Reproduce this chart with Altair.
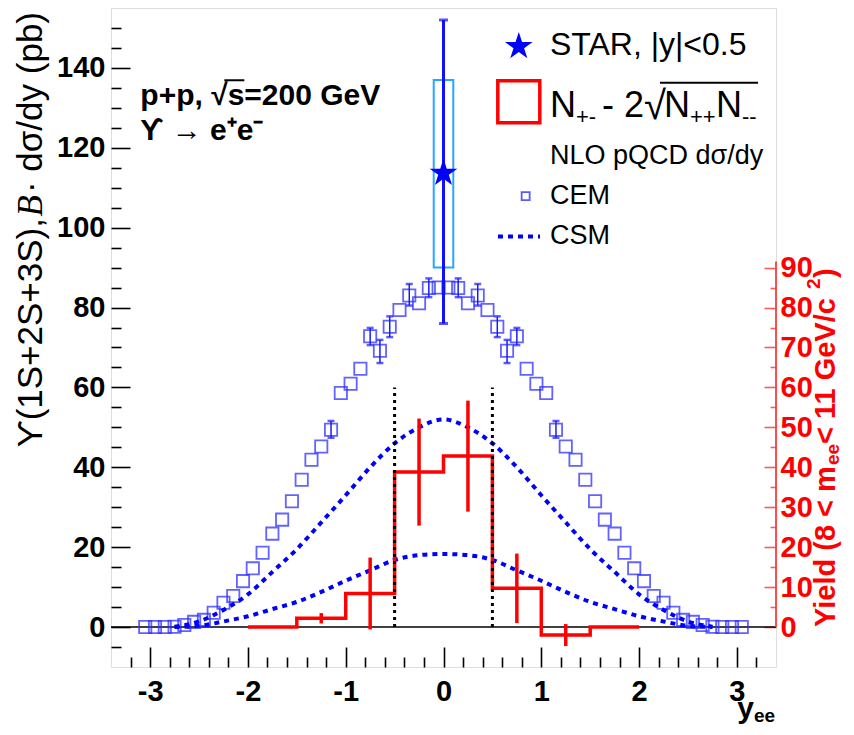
import altair as alt
import pandas as pd

FONT = "Liberation Sans"
BLUE = "#0000ff"
RED = "#ff0000"

# ---------------- data ----------------
# NLO pQCD CEM prediction (open squares), y in pb
cem_x = [-3.05, -2.95, -2.85, -2.75, -2.65, -2.55, -2.45, -2.35, -2.25, -2.15,
         -2.05, -1.95, -1.85, -1.75, -1.65, -1.55, -1.45, -1.35, -1.25, -1.15,
         -1.05, -0.95, -0.85, -0.75, -0.65, -0.55, -0.45, -0.35, -0.25, -0.15,
         -0.05, 0.05, 0.15, 0.25, 0.35, 0.45, 0.55, 0.65, 0.75, 0.85,
         0.95, 1.05, 1.15, 1.25, 1.35, 1.45, 1.55, 1.65, 1.75, 1.85,
         1.95, 2.05, 2.15, 2.25, 2.35, 2.45, 2.55, 2.65, 2.75, 2.85,
         2.95, 3.05]
cem_y = [0.0, 0.0, 0.0, 0.1, 0.5, 1.3, 1.8, 3.6, 6.1, 7.8,
         11.5, 14.7, 18.6, 23.4, 26.9, 31.5, 36.9, 41.9, 45.2, 49.4,
         58.6, 60.9, 64.7, 72.8, 69.2, 75.2, 79.4, 83.0, 81.1, 84.9,
         85.0, 85.0, 84.9, 81.1, 83.0, 79.4, 75.2, 69.2, 72.8, 64.7,
         60.9, 58.6, 49.4, 45.2, 41.9, 36.9, 31.5, 26.9, 23.4, 18.6,
         14.7, 11.5, 7.8, 6.1, 3.6, 1.8, 1.3, 0.5, 0.1, 0.0,
         0.0, 0.0]
cem_err_x = [-1.15, -0.75, -0.65, -0.55, -0.35, -0.15, 0.15, 0.35, 0.55, 0.65, 0.75, 1.15]
cem_err_lo = [47.4, 70.6, 66.1, 72.6, 80.5, 82.6, 82.6, 80.5, 72.6, 66.1, 70.6, 47.4]
cem_err_hi = [51.6, 74.9, 71.9, 77.8, 85.9, 87.3, 87.3, 85.9, 77.8, 71.9, 74.9, 51.6]

# CSM curves (dotted)
csm_x = [-2.75, -2.5, -2.25, -2.0, -1.75, -1.5, -1.25, -1.0, -0.75, -0.5, -0.25, 0.0,
         0.25, 0.5, 0.75, 1.0, 1.25, 1.5, 1.75, 2.0, 2.25, 2.5, 2.75]
csm_upper = [0.1, 1.4, 4.3, 8.2, 13.8, 19.5, 26.2, 33.0, 40.0, 46.0, 50.0, 52.0,
             50.0, 46.0, 40.0, 33.0, 26.2, 19.5, 13.8, 8.2, 4.3, 1.4, 0.1]
csm_lower = [0.0, 0.3, 1.4, 2.7, 4.5, 6.3, 8.8, 11.6, 14.2, 16.8, 18.0, 18.3,
             18.0, 16.8, 14.2, 11.6, 8.8, 6.3, 4.5, 2.7, 1.4, 0.3, 0.0]

# STAR measurement
star_x = [0.0]
star_y = [114.0]
star_stat_lo = [76.0]
star_stat_hi = [152.0]
star_sys_lo = [90.0]
star_sys_hi = [137.0]
star_box_x1 = [-0.1]
star_box_x2 = [0.1]

# N+- - 2 sqrt(N++ N--) yield histogram (right axis, same scale)
yield_edges = [-2.0, -1.5, -1.0, -0.5, 0.0, 0.5, 1.0, 1.5, 2.0]
yield_vals = [0.0, 2.2, 8.4, 38.8, 42.8, 9.7, -2.0, 0.0]
yield_errs = [0.0, 1.3, 9.0, 13.4, 13.9, 8.7, 2.75, 0.0]

# |y|<0.5 markers
cut_x = [-0.5, 0.5]
cut_top = [60.0, 60.0]

# axes ticks
x_major = [-3, -2, -1, 0, 1, 2, 3]
x_minor = [-3.2, -2.8, -2.6, -2.4, -2.2, -1.8, -1.6, -1.4, -1.2, -0.8, -0.6, -0.4, -0.2,
           0.2, 0.4, 0.6, 0.8, 1.2, 1.4, 1.6, 1.8, 2.2, 2.4, 2.6, 2.8, 3.2]
y_major = [0, 20, 40, 60, 80, 100, 120, 140]
y_minor = [-5, 5, 10, 15, 25, 30, 35, 45, 50, 55, 65, 70, 75, 85, 90, 95,
           105, 110, 115, 125, 130, 135, 145, 150]
r_major = [0, 10, 20, 30, 40, 50, 60, 70, 80, 90]
r_minor = [5, 15, 25, 35, 45, 55, 65, 75, 85]
red_axis_top = 91.5

STAR_PATH = ("M0,-0.905L0.2245,-0.214L0.9511,-0.214L0.3633,0.213L0.5878,0.904"
             "L0,0.477L-0.5878,0.904L-0.3633,0.213L-0.9511,-0.214L-0.2245,-0.214Z")

# ---------------- scales / helpers ----------------
xs = alt.Scale(domain=[-3.4, 3.4], nice=False, zero=False)
ys = alt.Scale(domain=[-10, 155], nice=False, zero=False)


def X(f="x", axis=None):
    return alt.X(f"{f}:Q", scale=xs, axis=axis)


def Y(f="y", axis=None):
    return alt.Y(f"{f}:Q", scale=ys, axis=axis)


def ax(orient, values, offset, size, labels=True, color="black", tickcolor="black", pad=6, expr=None):
    kw = dict(orient=orient, values=values, offset=offset, tickSize=size, tickWidth=1.6,
              tickColor=tickcolor, domain=False, grid=False, title=None, labels=labels,
              labelFlush=False, labelOverlap=False)
    if labels:
        kw.update(labelFont=FONT, labelFontSize=29, labelFontWeight="bold",
                  labelColor=color, labelPadding=pad)
    if expr:
        kw["labelExpr"] = expr
    return alt.Axis(**kw)


def txt(t, x, y, **mk):
    base = dict(font=FONT, color="black", fontSize=30)
    base.update(mk)
    df = pd.DataFrame({"x": [x], "y": [y], "t": [t]})
    return alt.Chart(df).mark_text(**base).encode(x=X(), y=Y(), text="t:N")


layers = []

# axis carriers
carrier = pd.DataFrame({"x": [0.0], "y": [0.0]})
neg = "(datum.value < 0 ? '-' : '') + format(abs(datum.value), 'd')"
layers.append(alt.Chart(carrier).mark_point(opacity=0).encode(
    x=X(axis=ax("bottom", x_major, -20, 20, pad=10, expr=neg)),
    y=Y(axis=ax("left", y_major, -19, 19, pad=6))))
layers.append(alt.Chart(carrier).mark_point(opacity=0).encode(
    x=X(axis=ax("bottom", x_minor, -10, 10, labels=False)),
    y=Y(axis=ax("left", y_minor, -10, 10, labels=False))))
layers.append(alt.Chart(carrier).mark_point(opacity=0).encode(
    x=X(), y=Y(axis=ax("right", r_major, -12, 12, color=RED, tickcolor="#ff5a5a", pad=4))))
layers.append(alt.Chart(carrier).mark_point(opacity=0).encode(
    x=X(), y=Y(axis=ax("right", r_minor, -6, 6, labels=False, tickcolor="#ff5a5a"))))

# zero line
zero_df = pd.DataFrame({"x": [-3.4], "x2": [3.4], "y": [0.0]})
layers.append(alt.Chart(zero_df).mark_rule(color="black", strokeWidth=1.5).encode(
    x=X(), x2="x2:Q", y=Y()))

# CEM squares
cem_df = pd.DataFrame({"x": cem_x, "y": cem_y})
layers.append(alt.Chart(cem_df).mark_point(shape="square", size=150, filled=False, color="#2f2fff",
                                           strokeWidth=1.8, opacity=0.75).encode(x=X(), y=Y()))
cem_err_df = pd.DataFrame({"x": cem_err_x, "lo": cem_err_lo, "hi": cem_err_hi})
layers.append(alt.Chart(cem_err_df).mark_rule(color="#1a1aff", strokeWidth=1.5).encode(
    x=X(), y=Y("lo"), y2="hi:Q"))
layers.append(alt.Chart(cem_err_df).mark_tick(orient="horizontal", size=7, thickness=2.5, color="#1a1aff").encode(
    x=X(), y=Y("lo")))
layers.append(alt.Chart(cem_err_df).mark_tick(orient="horizontal", size=7, thickness=2.5, color="#1a1aff").encode(
    x=X(), y=Y("hi")))

# CSM curves
csm_df = pd.DataFrame({"x": csm_x + csm_x, "y": csm_upper + csm_lower,
                       "c": ["upper"] * len(csm_x) + ["lower"] * len(csm_x)})
layers.append(alt.Chart(csm_df).mark_line(color=BLUE, strokeWidth=4, strokeDash=[5, 5],
                                          interpolate="monotone").encode(x=X(), y=Y(), detail="c:N"))

# yield histogram
step_df = pd.DataFrame({"x": yield_edges, "y": yield_vals + [yield_vals[-1]]})
layers.append(alt.Chart(step_df).mark_line(color=RED, strokeWidth=3.5, interpolate="step-after").encode(
    x=X(), y=Y()))
centers = [(a + b) / 2 for a, b in zip(yield_edges[:-1], yield_edges[1:])]
yerr_df = pd.DataFrame({"x": centers, "v": yield_vals, "e": yield_errs})
yerr_df = yerr_df[yerr_df["e"] > 0]
layers.append(alt.Chart(yerr_df).transform_calculate(lo="datum.v - datum.e", hi="datum.v + datum.e")
              .mark_rule(color=RED, strokeWidth=3.5).encode(x=X(), y=Y("lo"), y2="hi:Q"))

# |y|<0.5 lines
cut_df = pd.DataFrame({"x": cut_x, "y": [0.0, 0.0], "y2": cut_top})
layers.append(alt.Chart(cut_df).mark_rule(color="black", strokeWidth=3, strokeDash=[3, 4]).encode(
    x=X(), y=Y(), y2="y2:Q"))

# STAR point
box_df = pd.DataFrame({"x": star_box_x1, "x2": star_box_x2, "y": star_sys_lo, "y2": star_sys_hi})
layers.append(alt.Chart(box_df).mark_rect(fillOpacity=0, stroke="#2aa5ff", strokeWidth=2).encode(
    x=X(), x2="x2:Q", y=Y(), y2="y2:Q"))
stat_df = pd.DataFrame({"x": star_x, "lo": star_stat_lo, "hi": star_stat_hi, "y": star_y})
layers.append(alt.Chart(stat_df).mark_rule(color="#1010ff", strokeWidth=3).encode(
    x=X(), y=Y("lo"), y2="hi:Q"))
layers.append(alt.Chart(stat_df).mark_tick(orient="horizontal", size=9, thickness=3, color="#1010ff").encode(
    x=X(), y=Y("lo")))
layers.append(alt.Chart(stat_df).mark_tick(orient="horizontal", size=9, thickness=3, color="#1010ff").encode(
    x=X(), y=Y("hi")))
layers.append(alt.Chart(stat_df).mark_point(shape=STAR_PATH, filled=True, color=BLUE, size=850,
                                            opacity=1).encode(x=X(), y=Y()))

# red axis line
raxis_df = pd.DataFrame({"x": [3.4], "y": [0.0], "y2": [red_axis_top]})
layers.append(alt.Chart(raxis_df).mark_rule(color="#ff3b3b", strokeWidth=1.8).encode(
    x=X(), y=Y(), y2="y2:Q"))

# ---------------- annotations ----------------
layers.append(txt("p+p, √s=200 GeV", -3.10, 132.9, fontWeight="bold", align="left", baseline="middle"))
ov_df = pd.DataFrame({"x": [-3.10], "y": [132.9]})
layers.append(alt.Chart(ov_df).mark_rule(color="black", strokeWidth=2, xOffset=84, x2Offset=104,
                                         yOffset=-16).encode(x=X(), x2="x:Q", y=Y()))
layers.append(txt("ϒ → e⁺e⁻", -3.10, 124.2, fontWeight="bold", align="left", baseline="middle"))

# legend
LX_SYM, LX_TXT = 0.77, 1.089
leg_star = pd.DataFrame({"x": [LX_SYM], "y": [145.7]})
layers.append(alt.Chart(leg_star).mark_point(shape=STAR_PATH, filled=True, color=BLUE, size=850,
                                             opacity=1).encode(x=X(), y=Y()))
layers.append(txt("STAR, |y|<0.5", LX_TXT, 145.7, fontSize=32, align="left", baseline="middle"))
leg_sq = pd.DataFrame({"x": [LX_SYM], "y": [131.5]})
layers.append(alt.Chart(leg_sq).mark_point(shape="square", size=1764, filled=False, color=RED,
                                           strokeWidth=3.5, opacity=1).encode(x=X(), y=Y()))
FY = 127.8
for t, dx, dy, fs in [("N", 0, 0, 36), ("+-", 26, 7, 22), ("- 2", 52, 0, 36), ("√", 94, 2, 40),
                      ("N", 114, 0, 36), ("++", 140, 7, 22), ("N", 166, 0, 36), ("--", 192, 7, 22)]:
    layers.append(txt(t, LX_TXT, FY, fontSize=fs, align="left", baseline="alphabetic", dx=dx, dy=dy))
ovf = pd.DataFrame({"x": [LX_TXT], "y": [FY]})
layers.append(alt.Chart(ovf).mark_rule(color="black", strokeWidth=2, xOffset=110, x2Offset=208,
                                       yOffset=-34).encode(x=X(), x2="x:Q", y=Y()))
layers.append(txt("NLO pQCD dσ/dy", LX_TXT, 118.0, fontSize=27, align="left", baseline="middle"))
leg_cem = pd.DataFrame({"x": [0.84], "y": [107.9]})
layers.append(alt.Chart(leg_cem).mark_point(shape="square", size=64, filled=False, color="#2f2fff",
                                            strokeWidth=1.8, opacity=0.8).encode(x=X(), y=Y()))
layers.append(txt("CEM", LX_TXT, 107.9, fontSize=27, align="left", baseline="middle"))
leg_csm = pd.DataFrame({"x": [0.557], "x2": [0.987], "y": [97.8]})
layers.append(alt.Chart(leg_csm).mark_rule(color=BLUE, strokeWidth=4, strokeDash=[5, 5]).encode(
    x=X(), x2="x2:Q", y=Y()))
layers.append(txt("CSM", LX_TXT, 97.8, fontSize=27, align="left", baseline="middle"))

# left axis title (rotated, anchored at top)
LT_X, LT_Y = -4.22, 154.0
layers.append(txt("· dσ/dy (pb)", LT_X, LT_Y, fontSize=35, angle=270, align="right", baseline="middle"))
layers.append(txt("B", LT_X, LT_Y, font="Liberation Serif", fontStyle="italic", fontSize=35, angle=270,
                  align="right", baseline="middle", dx=-183))
layers.append(txt("ϒ(1S+2S+3S), ", LT_X, LT_Y, fontSize=35, angle=270, align="right", baseline="middle",
                  dx=-206))

# right axis title (rotated, anchored at bottom)
RT_X, RT_Y = 3.91, 0.0
for t, dx, dy, fs in [("Yield (8 < m", 0, 0, 29), ("ee", 162, 7, 19), (" < 11 GeV/c", 183, 0, 29),
                      ("2", 338, -12, 19), (")", 349, 0, 29)]:
    layers.append(txt(t, RT_X, RT_Y, fontSize=fs, fontWeight="bold", color=RED, angle=270,
                      align="left", baseline="middle", dx=dx, dy=dy))

# x axis title
layers.append(txt("ee", 3.39, -22.2, fontSize=19, fontWeight="bold", align="right", baseline="middle"))
layers.append(txt("y", 3.39, -20.4, fontSize=30, fontWeight="bold", align="right", baseline="middle", dx=-21))

chart = (alt.layer(*layers)
         .resolve_axis(x="independent", y="independent")
         .properties(width=665, height=659,
                     autosize=alt.AutoSizeParams(type="none"),
                     padding={"left": 103, "top": 0, "right": 70, "bottom": 60})
         .configure_view(stroke="#333333", strokeWidth=2)
         .configure(background="white"))

chart.save("out.html", embed_options={"renderer": "svg", "actions": False})
